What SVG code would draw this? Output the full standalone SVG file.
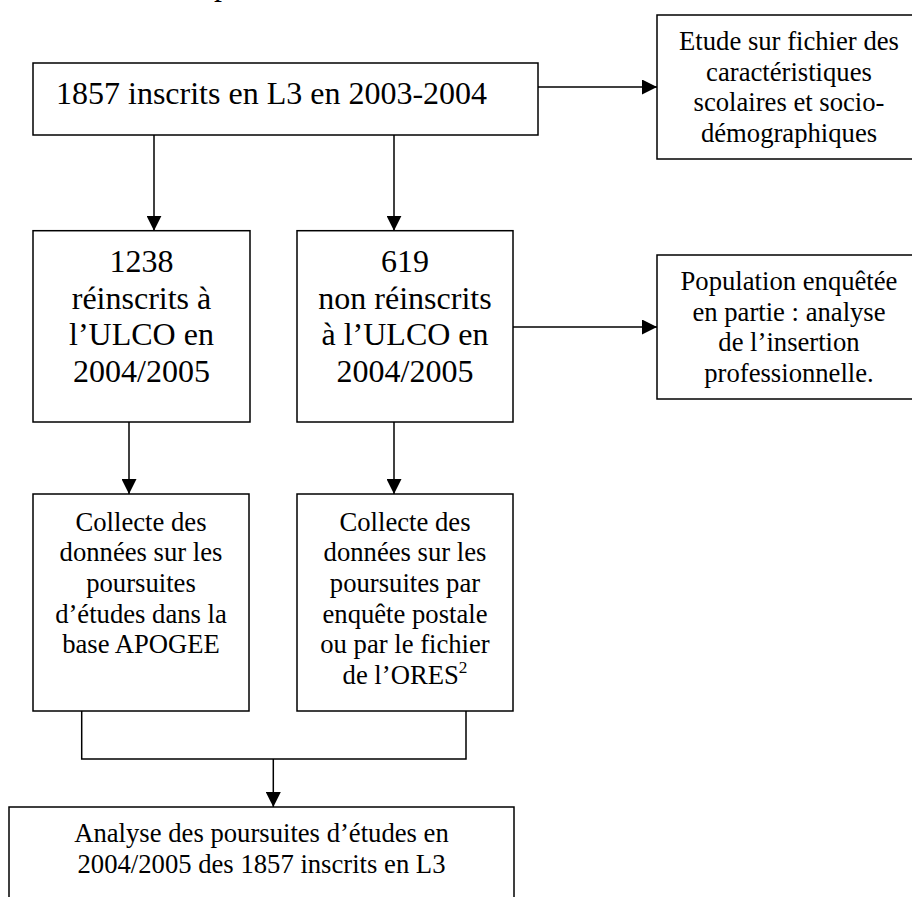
<svg xmlns="http://www.w3.org/2000/svg" width="912" height="897" viewBox="0 0 912 897">
<defs>
<style>
.box{fill:#fff;stroke:#000;stroke-width:1.5}
.ln{fill:none;stroke:#000;stroke-width:1.5}
text{font-family:"Liberation Serif","Times New Roman",serif;fill:#000}
.big{font-size:32px;text-anchor:middle}
.sm{font-size:26.67px;text-anchor:middle}
</style>
<marker id="ah" viewBox="0 0 10 10" refX="10" refY="5" markerWidth="10" markerHeight="10" markerUnits="userSpaceOnUse" orient="auto">
<path d="M0,0 L10,5 L0,10 Z" fill="#000"/>
</marker>
<marker id="ah2" viewBox="0 0 15 15" refX="15" refY="7.5" markerWidth="15" markerHeight="15" markerUnits="userSpaceOnUse" orient="auto">
<path d="M0,0 L15,7.5 L0,15 Z" fill="#000"/>
</marker>
</defs>
<rect width="912" height="897" fill="#fff"/>
<text x="214" y="-5" font-size="32">p</text>
<g id="connectors">
<path class="ln" d="M154,135 V230.7" marker-end="url(#ah2)"/>
<path class="ln" d="M394,135 V230.7" marker-end="url(#ah2)"/>
<path class="ln" d="M538,87 H657" marker-end="url(#ah2)"/>
<path class="ln" d="M513,327 H657" marker-end="url(#ah2)"/>
<path class="ln" d="M129,422 V494" marker-end="url(#ah2)"/>
<path class="ln" d="M394,422 V494" marker-end="url(#ah2)"/>
<path class="ln" d="M81.7,711 V759 H466 V711"/>
<path class="ln" d="M273.3,759 V807" marker-end="url(#ah2)"/>
</g>
<g id="n-total">
<rect class="box" x="33" y="63" width="505" height="72"/>
<text x="56" y="104" font-size="32">1857 inscrits en L3 en 2003-2004</text>
</g>
<g id="n-etude">
<rect class="box" x="657" y="15" width="270" height="144"/>
<text class="sm"><tspan x="789" y="50">Etude sur fichier des</tspan><tspan x="789" y="80.7">caractéristiques</tspan><tspan x="789" y="111.3">scolaires et socio-</tspan><tspan x="789" y="142">démographiques</tspan></text>
</g>
<g id="n-reinscrits">
<rect class="box" x="33" y="230.7" width="217" height="191.3"/>
<text class="big"><tspan x="141.5" y="272">1238</tspan><tspan x="141.5" y="308.7">réinscrits à</tspan><tspan x="141.5" y="345.3">l’ULCO en</tspan><tspan x="141.5" y="382">2004/2005</tspan></text>
</g>
<g id="n-nonreinscrits">
<rect class="box" x="297" y="230.7" width="216" height="191.3"/>
<text class="big"><tspan x="405" y="272">619</tspan><tspan x="405" y="308.7">non réinscrits</tspan><tspan x="405" y="345.3">à l’ULCO en</tspan><tspan x="405" y="382">2004/2005</tspan></text>
</g>
<g id="n-population">
<rect class="box" x="657" y="255" width="270" height="144"/>
<text class="sm"><tspan x="789" y="290">Population enquêtée</tspan><tspan x="789" y="320.7">en partie : analyse</tspan><tspan x="789" y="351.3">de l’insertion</tspan><tspan x="789" y="382">professionnelle.</tspan></text>
</g>
<g id="n-apogee">
<rect class="box" x="33" y="494" width="216" height="217"/>
<text class="sm"><tspan x="141" y="530.7">Collecte des</tspan><tspan x="141" y="561.3">données sur les</tspan><tspan x="141" y="592">poursuites</tspan><tspan x="141" y="622.7">d’études dans la</tspan><tspan x="141" y="653.3">base APOGEE</tspan></text>
</g>
<g id="n-enquete">
<rect class="box" x="297" y="494" width="216" height="217"/>
<text class="sm"><tspan x="405" y="530.7">Collecte des</tspan><tspan x="405" y="561.3">données sur les</tspan><tspan x="405" y="592">poursuites par</tspan><tspan x="405" y="622.7">enquête postale</tspan><tspan x="405" y="653.3">ou par le fichier</tspan><tspan x="405" y="684">de l’ORES<tspan font-size="17.3" dy="-11">2</tspan></tspan></text>
</g>
<g id="n-analyse">
<rect class="box" x="9" y="807" width="505" height="130"/>
<text class="sm"><tspan x="261.5" y="841.7">Analyse des poursuites d’études en</tspan><tspan x="261.5" y="872.7">2004/2005 des 1857 inscrits en L3</tspan></text>
</g>
</svg>
